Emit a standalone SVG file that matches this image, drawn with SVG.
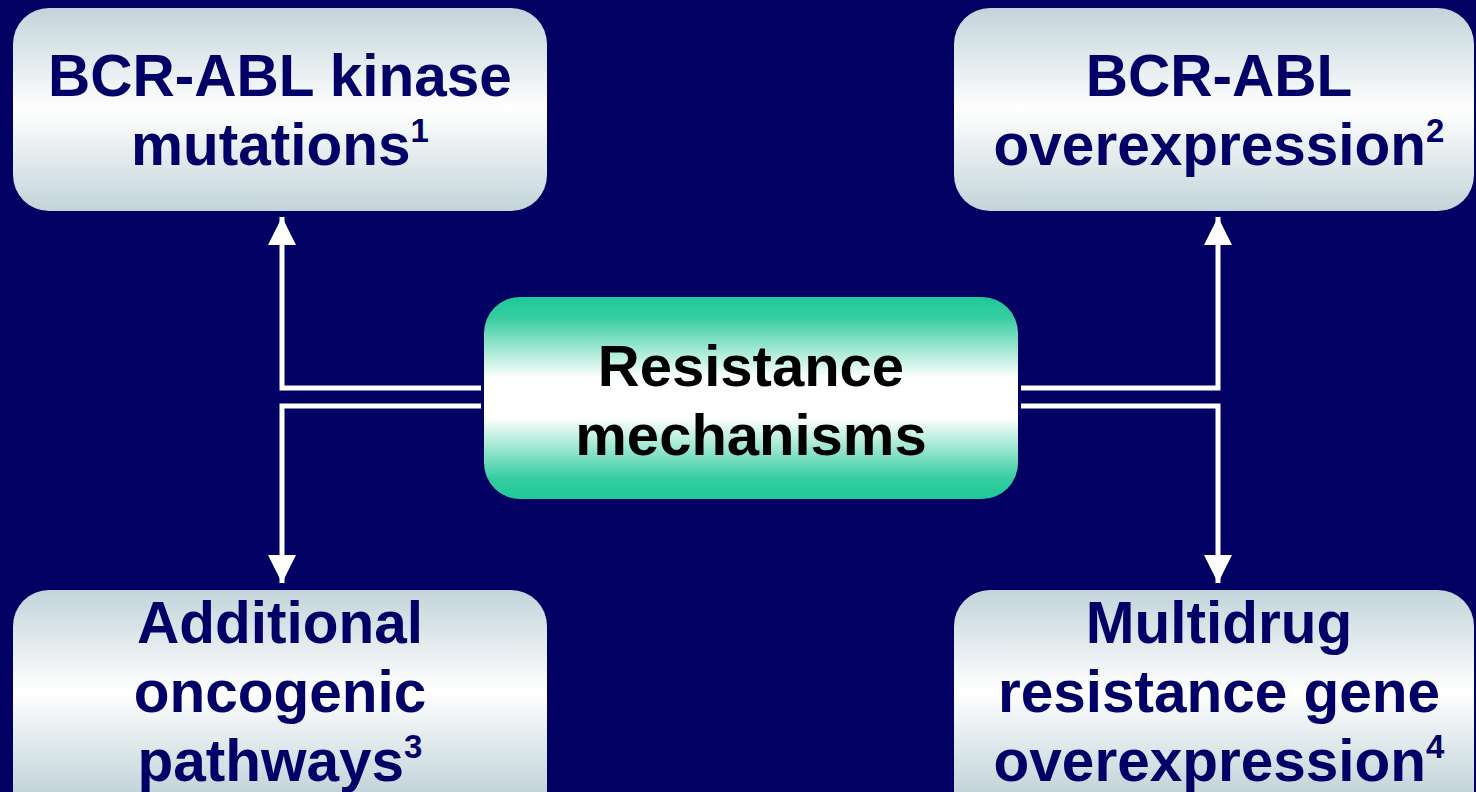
<svg xmlns="http://www.w3.org/2000/svg" width="1476" height="792" viewBox="0 0 1476 792">
<defs>
<linearGradient id="gray" x1="0" y1="0" x2="0" y2="1">
<stop offset="0" stop-color="#C3D4DA"/>
<stop offset="0.5" stop-color="#FFFFFF"/>
<stop offset="1" stop-color="#C3D4DA"/>
</linearGradient>
<linearGradient id="grayb" x1="0" y1="590" x2="0" y2="793" gradientUnits="userSpaceOnUse">
<stop offset="0" stop-color="#C3D4DA"/>
<stop offset="0.5" stop-color="#FFFFFF"/>
<stop offset="1" stop-color="#C3D4DA"/>
</linearGradient>
<linearGradient id="green" x1="0" y1="0" x2="0" y2="1">
<stop offset="0" stop-color="#1FC997"/>
<stop offset="0.1" stop-color="#35CDA0"/>
<stop offset="0.4" stop-color="#FFFFFF"/>
<stop offset="0.6" stop-color="#FFFFFF"/>
<stop offset="0.9" stop-color="#35CDA0"/>
<stop offset="1" stop-color="#1FC997"/>
</linearGradient>
<marker id="arr" viewBox="0 0 10 10" refX="10" refY="5" markerUnits="userSpaceOnUse" markerWidth="28" markerHeight="30" orient="auto">
<path d="M0,0 L10,5 L0,10 Z" fill="#FFFFFF"/>
</marker>
<style>
.lbl{font-family:"Liberation Sans",Arial,sans-serif;font-weight:bold;font-size:58.5px;fill:#020066;text-anchor:middle}
.ctr{font-family:"Liberation Sans",Arial,sans-serif;font-weight:bold;font-size:58px;fill:#000000;text-anchor:middle}
.sup{font-size:33px}
.conn{fill:none;stroke:#FFFFFF;stroke-width:5;stroke-linejoin:miter}
</style>
</defs>
<rect width="1476" height="792" fill="#020062"/>
<g id="connectors">
<path class="conn" d="M481,388 H282 V217" marker-end="url(#arr)"/>
<path class="conn" d="M481,406 H282 V583" marker-end="url(#arr)"/>
<path class="conn" d="M1021,388 H1218 V217" marker-end="url(#arr)"/>
<path class="conn" d="M1021,406 H1218 V583" marker-end="url(#arr)"/>
</g>
<g id="node-mutations">
<rect x="13" y="8" width="534" height="203" rx="36" fill="url(#gray)"/>
<text class="lbl" x="280" y="96">BCR-ABL kinase</text>
<text class="lbl" x="280" y="165">mutations<tspan class="sup" dy="-23">1</tspan></text>
</g>
<g id="node-overexpression">
<rect x="954" y="8" width="520" height="203" rx="36" fill="url(#gray)"/>
<text class="lbl" x="1219" y="96">BCR-ABL</text>
<text class="lbl" x="1219" y="165">overexpression<tspan class="sup" dy="-23">2</tspan></text>
</g>
<g id="node-center">
<rect x="484" y="297" width="534" height="202" rx="36" fill="url(#green)"/>
<text class="ctr" x="751" y="386">Resistance</text>
<text class="ctr" x="751" y="455">mechanisms</text>
</g>
<g id="node-oncogenic">
<rect x="13" y="590" width="534" height="240" rx="36" fill="url(#grayb)"/>
<text class="lbl" x="280" y="643">Additional</text>
<text class="lbl" x="280" y="712">oncogenic</text>
<text class="lbl" x="280" y="781">pathways<tspan class="sup" dy="-23">3</tspan></text>
</g>
<g id="node-multidrug">
<rect x="954" y="590" width="520" height="240" rx="36" fill="url(#grayb)"/>
<text class="lbl" x="1219" y="643">Multidrug</text>
<text class="lbl" x="1219" y="712">resistance gene</text>
<text class="lbl" x="1219" y="781">overexpression<tspan class="sup" dy="-23">4</tspan></text>
</g>
</svg>
